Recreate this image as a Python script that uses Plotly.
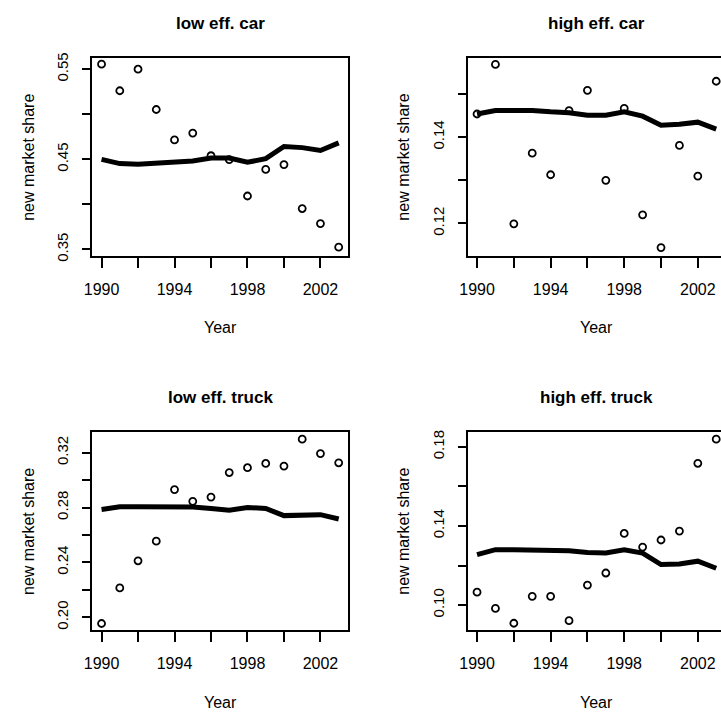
import plotly.graph_objects as go

years = list(range(1990, 2004))

low_car_obs = [0.5556, 0.5261, 0.5500, 0.5053, 0.4715, 0.4791, 0.4540, 0.4497,
               0.4093, 0.4388, 0.4442, 0.3954, 0.3787, 0.3525]
low_car_fit = [0.4500, 0.4453, 0.4445, 0.4453, 0.4467, 0.4482, 0.4515, 0.4515,
               0.4467, 0.4508, 0.4642, 0.4630, 0.4598, 0.4682]

high_car_obs = [0.1454, 0.1569, 0.1199, 0.1363, 0.1313, 0.1462, 0.1509, 0.1300,
                0.1467, 0.1220, 0.1144, 0.1381, 0.1310, 0.1530]
high_car_fit = [0.1454, 0.1462, 0.1462, 0.1462, 0.1459, 0.1457, 0.1451, 0.1451,
                0.1459, 0.1449, 0.1428, 0.1430, 0.1435, 0.1419]

low_truck_obs = [0.1955, 0.2214, 0.2412, 0.2555, 0.2931, 0.2845, 0.2876, 0.3055,
                 0.3090, 0.3121, 0.3102, 0.3298, 0.3193, 0.3126]
low_truck_fit = [0.2786, 0.2805, 0.2805, 0.2805, 0.2805, 0.2803, 0.2793, 0.2780,
                 0.2800, 0.2793, 0.2741, 0.2741, 0.2748, 0.2716]

high_truck_obs = [0.1065, 0.0983, 0.0908, 0.1044, 0.1044, 0.0921, 0.1101, 0.1162,
                  0.1362, 0.1293, 0.1329, 0.1374, 0.1717, 0.1839]
high_truck_fit = [0.1255, 0.1280, 0.1280, 0.1280, 0.1278, 0.1275, 0.1266, 0.1263,
                  0.1280, 0.1263, 0.1205, 0.1208, 0.1222, 0.1186]

titles = ["low eff. car", "high eff. car", "low eff. truck", "high eff. truck"]

x_tickvals = [1990, 1992, 1994, 1996, 1998, 2000, 2002]
x_ticktext = ["1990", "", "1994", "", "1998", "", "2002"]

y_ticks = [
    ([0.35, 0.40, 0.45, 0.50, 0.55], ["0.35", "", "0.45", "", "0.55"]),
    ([0.12, 0.13, 0.14, 0.15], ["0.12", "", "0.14", ""]),
    ([0.20, 0.22, 0.24, 0.26, 0.28, 0.30, 0.32], ["0.20", "", "0.24", "", "0.28", "", "0.32"]),
    ([0.10, 0.12, 0.14, 0.16, 0.18], ["0.10", "", "0.14", "", "0.18"]),
]
y_ranges = [[0.3430, 0.5620], [0.1125, 0.1583], [0.1905, 0.3350], [0.0872, 0.1875]]

obs = [low_car_obs, high_car_obs, low_truck_obs, high_truck_obs]
fit = [low_car_fit, high_car_fit, low_truck_fit, high_truck_fit]

W, H = 721, 716
# panel boxes in pixels (left, right, top, bottom)
boxes = [(85, 344, 53.3, 254), (465, 721, 53.3, 254),
         (85, 344, 433.3, 635), (465, 721, 433.3, 635)]
x_ranges = [[1989.48, 2003.52], [1989.5, 2003.26], [1989.48, 2003.52], [1989.5, 2003.26]]

FONT = "Liberation Sans, Arial, Helvetica, sans-serif"

fig = go.Figure()
layout = dict(width=W, height=H, margin=dict(l=0, r=0, t=0, b=0),
              paper_bgcolor="white", plot_bgcolor="white", showlegend=False,
              font=dict(family=FONT, size=15, color="black"))
annotations = []

for i in range(4):
    xa = "x" if i == 0 else f"x{i+1}"
    ya = "y" if i == 0 else f"y{i+1}"
    l, r, t, b = boxes[i]
    fig.add_trace(go.Scatter(x=years, y=fit[i], mode="lines",
                             line=dict(color="black", width=5, shape="linear"),
                             xaxis=xa, yaxis=ya, hoverinfo="skip"))
    fig.add_trace(go.Scatter(x=years, y=obs[i], mode="markers",
                             marker=dict(symbol="circle-open", size=7, color="black",
                                         line=dict(width=1.8, color="black")),
                             xaxis=xa, yaxis=ya, cliponaxis=False))
    right_panel = i in (1, 3)
    xkey = "xaxis" if i == 0 else f"xaxis{i+1}"
    ykey = "yaxis" if i == 0 else f"yaxis{i+1}"
    layout[xkey] = dict(domain=[l / W, r / W], range=x_ranges[i], anchor=ya,
                        tickmode="array", tickvals=x_tickvals, ticktext=x_ticktext,
                        ticks="outside", ticklen=10, tickwidth=1.6, tickcolor="black",
                        showline=True, linecolor="black", linewidth=1.6, mirror=True,
                        showgrid=False, zeroline=False, ticklabelstandoff=8,
                        tickfont=dict(size=16, family=FONT))
    layout[ykey] = dict(domain=[1 - b / H, 1 - t / H], range=y_ranges[i], anchor=xa,
                        tickmode="array", tickvals=y_ticks[i][0], ticktext=y_ticks[i][1],
                        ticks="outside", ticklen=8, tickwidth=1.6, tickcolor="black",
                        showline=True, linecolor="black", linewidth=1.6,
                        mirror=(False if right_panel else True),
                        showgrid=False, zeroline=False, tickangle=-90, ticklabelstandoff=8,
                        tickfont=dict(size=15, family=FONT))
    cx = ((l + (726 if right_panel else r)) / 2) / W
    annotations.append(dict(text="<b>" + titles[i] + "</b>", x=cx, y=1 - (t - 35) / H,
                            xref="paper", yref="paper", showarrow=False,
                            xanchor="center", yanchor="middle",
                            font=dict(size=17, family=FONT, color="black")))
    annotations.append(dict(text="Year", x=cx, y=1 - (b + 73) / H,
                            xref="paper", yref="paper", showarrow=False,
                            xanchor="center", yanchor="middle",
                            font=dict(size=16, family=FONT, color="black")))
    annotations.append(dict(text="new market share", x=(l - 65) / W, y=1 - ((t + b) / 2) / H,
                            xref="paper", yref="paper", showarrow=False, textangle=-90,
                            xanchor="center", yanchor="middle",
                            font=dict(size=16, family=FONT, color="black")))

layout["annotations"] = annotations
fig.update_layout(**layout)
fig.write_html("out.html")
